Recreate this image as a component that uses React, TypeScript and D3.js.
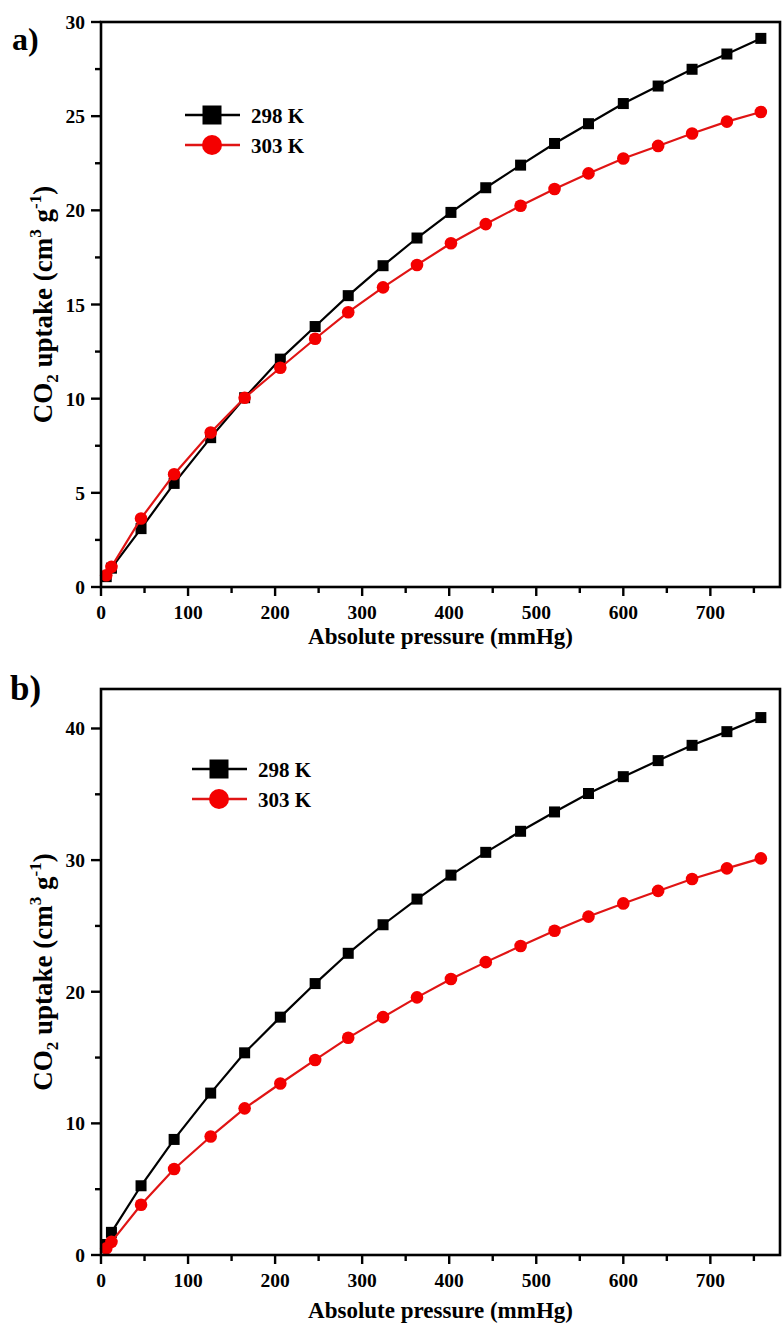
import React from 'react';
import * as d3 from 'd3';

// pressure points (mmHg), shared by every isotherm
const pressure = [6, 12, 46, 84, 126, 165, 206, 246, 284, 324, 363, 402, 442, 482, 521, 560, 600, 640, 679, 719, 758];

// panel a)
const uptakeA298 = [0.55, 1.0, 3.1, 5.5, 7.93, 10.05, 12.1, 13.83, 15.47, 17.06, 18.53, 19.89, 21.2, 22.4, 23.55, 24.6, 25.67, 26.6, 27.49, 28.3, 29.13];
const uptakeA303 = [0.62, 1.07, 3.64, 5.99, 8.2, 10.05, 11.64, 13.18, 14.59, 15.91, 17.1, 18.25, 19.27, 20.24, 21.13, 21.96, 22.75, 23.42, 24.08, 24.71, 25.22];

// panel b)
const uptakeB298 = [0.8, 1.72, 5.26, 8.78, 12.3, 15.36, 18.07, 20.62, 22.92, 25.09, 27.04, 28.86, 30.59, 32.19, 33.66, 35.06, 36.34, 37.56, 38.72, 39.76, 40.83];
const uptakeB303 = [0.5, 1.0, 3.82, 6.53, 9.0, 11.14, 13.03, 14.82, 16.5, 18.07, 19.57, 20.97, 22.25, 23.47, 24.63, 25.71, 26.71, 27.66, 28.56, 29.37, 30.13];

const seriesNames = ['298 K', '303 K'];
const xTicks = [0, 100, 200, 300, 400, 500, 600, 700];
const xMinor = [50, 150, 250, 350, 450, 550, 650, 750];
const yTicksA = [0, 5, 10, 15, 20, 25, 30];
const yMinorA = [2.5, 7.5, 12.5, 17.5, 22.5, 27.5];
const yTicksB = [0, 10, 20, 30, 40];
const yMinorB = [5, 15, 25, 35];

const FONT = '"Liberation Serif", "Times New Roman", serif';
const BLACK = '#000';
const RED_LINE = '#e01414';
const RED_FILL = '#f40000';

const Panel = ({label, labelSize, labelX, labelY, top, bottom, yMax, yTicks, yMinor, s298, s303, legendX, legendY, titleY}) => {
  const left = 101, right = 780;
  const x = d3.scaleLinear().domain([0, 780]).range([left, right]);
  const y = d3.scaleLinear().domain([0, yMax]).range([bottom, top]);
  const line = d3.line().x(d => x(d[0])).y(d => y(d[1]));
  const d298 = pressure.map((p, i) => [p, s298[i]]);
  const d303 = pressure.map((p, i) => [p, s303[i]]);
  const midY = (top + bottom) / 2;

  return (
    <g fontFamily={FONT} fontWeight="bold">
      <text x={labelX} y={labelY} fontSize={labelSize}>{label}</text>

      {/* data: black first, red on top */}
      <path d={line(d298)} fill="none" stroke={BLACK} strokeWidth={2.2} />
      {d298.map((d, i) => (
        <rect key={'s' + i} x={x(d[0]) - 5.5} y={y(d[1]) - 5.5} width={11} height={11} fill={BLACK} />
      ))}
      <path d={line(d303)} fill="none" stroke={RED_LINE} strokeWidth={2.2} />
      {d303.map((d, i) => (
        <circle key={'c' + i} cx={x(d[0])} cy={y(d[1])} r={6.3} fill={RED_FILL} />
      ))}

      {/* frame */}
      <rect x={left} y={top} width={right - left} height={bottom - top} fill="none" stroke="#000" strokeWidth={2.6} />

      {/* x axis */}
      {xTicks.map(t => (
        <g key={'xt' + t}>
          <line x1={x(t)} x2={x(t)} y1={bottom} y2={bottom + 9} stroke="#000" strokeWidth={2.4} />
          <text x={x(t)} y={bottom + 32} fontSize={19.5} textAnchor="middle">{t}</text>
        </g>
      ))}
      {xMinor.map(t => (
        <line key={'xm' + t} x1={x(t)} x2={x(t)} y1={bottom} y2={bottom + 6} stroke="#000" strokeWidth={2.4} />
      ))}
      <text x={(left + right) / 2} y={titleY} fontSize={23} textAnchor="middle">Absolute pressure (mmHg)</text>

      {/* y axis */}
      {yTicks.map(t => (
        <g key={'yt' + t}>
          <line x1={left - 10} x2={left} y1={y(t)} y2={y(t)} stroke="#000" strokeWidth={2.4} />
          <text x={left - 16} y={y(t) + 7} fontSize={19.5} textAnchor="end">{t}</text>
        </g>
      ))}
      {yMinor.map(t => (
        <line key={'ym' + t} x1={left - 6} x2={left} y1={y(t)} y2={y(t)} stroke="#000" strokeWidth={2.4} />
      ))}
      <text transform={`translate(52,${midY}) rotate(-90)`} fontSize={27} textAnchor="middle">
        CO<tspan fontSize={17} dy={6}>2</tspan>
        <tspan dy={-6}> uptake (cm</tspan>
        <tspan fontSize={17} dy={-11}>3</tspan>
        <tspan dy={11}> g</tspan>
        <tspan fontSize={17} dy={-11}>-1</tspan>
        <tspan dy={11}>)</tspan>
      </text>

      {/* legend */}
      {seriesNames.map((name, i) => {
        const ly = legendY + i * 30;
        const cx = legendX + 27;
        return (
          <g key={name}>
            <line x1={legendX} x2={legendX + 55} y1={ly} y2={ly} stroke={i === 0 ? BLACK : RED_LINE} strokeWidth={2.6} />
            {i === 0
              ? <rect x={cx - 9.5} y={ly - 9.5} width={19} height={19} fill={BLACK} />
              : <circle cx={cx} cy={ly} r={10} fill={RED_FILL} />}
            <text x={legendX + 66} y={ly + 7.5} fontSize={21}>{name}</text>
          </g>
        );
      })}
    </g>
  );
};

export default function App() {
  return (
    <svg width={783} height={1327} style={{position: 'absolute', left: 0, top: 0, background: '#fff'}}>
      <Panel label="a)" labelSize={32} labelX={12} labelY={50} top={22} bottom={587} yMax={30}
        yTicks={yTicksA} yMinor={yMinorA} s298={uptakeA298} s303={uptakeA303}
        legendX={185} legendY={115} titleY={644} />
      <Panel label="b)" labelSize={35} labelX={10} labelY={700} top={689} bottom={1255} yMax={43}
        yTicks={yTicksB} yMinor={yMinorB} s298={uptakeB298} s303={uptakeB303}
        legendX={192} legendY={769} titleY={1318} />
    </svg>
  );
}
